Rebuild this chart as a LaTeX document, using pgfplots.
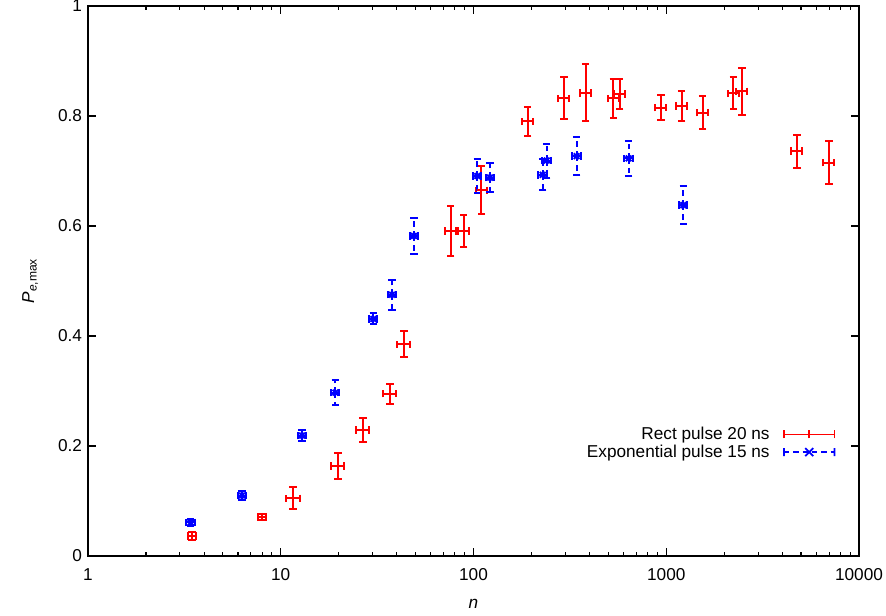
\documentclass[border=0pt]{standalone}
\usepackage{fontspec}
\setmainfont{Liberation Sans}
\usepackage{pgfplots}
\pgfplotsset{compat=1.18}
\usepackage{pgfplotstable}

\pgfplotstableread{
x y ex ey
3.46 0.036 0.16 0.007
8.0 0.071 0.36 0.006
11.6 0.105 0.95 0.020
19.8 0.164 1.55 0.024
26.7 0.229 2.1 0.022
36.9 0.295 2.9 0.018
43.6 0.385 3.4 0.024
76.2 0.591 5.0 0.045
89 0.591 5.8 0.029
110 0.665 7.2 0.044
191 0.790 12.4 0.027
294 0.832 19 0.038
382 0.842 25 0.052
531 0.832 35 0.035
573 0.840 37 0.027
939 0.815 61 0.023
1202 0.818 78 0.028
1545 0.806 100 0.030
2228 0.841 145 0.029
2472 0.845 160 0.043
4766 0.736 310 0.030
6985 0.715 455 0.039
}\rectdata

\pgfplotstableread{
x y ex ey
3.41 0.061 0.17 0.007
6.29 0.110 0.31 0.008
12.9 0.219 0.65 0.010
19.2 0.297 0.96 0.023
30.2 0.431 1.5 0.010
37.8 0.475 1.9 0.027
49.1 0.582 2.5 0.033
104.6 0.691 5.2 0.031
121.8 0.688 6.1 0.026
228.6 0.693 11.4 0.028
239.8 0.719 12 0.031
343 0.727 17 0.034
638 0.723 32 0.032
1225 0.638 61 0.034
}\expdata

\begin{document}
\fontsize{12.9}{15}\selectfont
\begin{tikzpicture}
\begin{axis}[
  name=ax,
  scale only axis, width=578.25pt, height=412.5pt,
  xmode=log, xmin=1, xmax=10000, ymin=0, ymax=1,
  xtick={1,10,100,1000,10000}, xticklabels={1,10,100,1000,10000},
  minor xtick={2,3,4,5,6,7,8,9,20,30,40,50,60,70,80,90,200,300,400,500,600,700,800,900,2000,3000,4000,5000,6000,7000,8000,9000},
  ytick={0,0.2,0.4,0.6,0.8,1}, yticklabels={0,0.2,0.4,0.6,0.8,1},
  tick align=inside, major tick length=6pt, minor tick length=3pt,
  every tick/.style={black, line width=0.8pt},
  axis line style={line width=1pt},
  /pgf/number format/assume math mode=true,
  ticklabel style={font=\fontsize{12.9}{15}\selectfont},
  xticklabel style={yshift=-5pt},
  xlabel={\textit{n}}, ylabel={\textit{P}\textsubscript{\textit{e},max}},
  every axis x label/.style={at={(axis description cs:0.5,-0.087)}, anchor=center},
  every axis y label/.style={at={(axis description cs:-0.075,0.5)}, rotate=90, anchor=center},
  legend plot pos=right, legend cell align=right,
  legend style={at={(0.975,0.245)}, anchor=north east, draw=none, fill=none, row sep=-2pt, font=\fontsize{12.9}{15}\selectfont},
]
\addplot[red, only marks, mark=+, mark size=3pt, line width=1.5pt,
  mark options={solid},
  error bars/.cd, x dir=both, x explicit, y dir=both, y explicit,
  error bar style={line width=1.5pt, red},
  error mark options={rotate=90, red, mark size=2.8pt, line width=1.5pt},
  /pgfplots/legend image code/.code={
    \path (0pt,0pt);
    \draw[red, line width=1.3pt] (8pt,0pt) -- (46pt,0pt)
      (8pt,-3pt) -- (8pt,3pt) (46pt,-3pt) -- (46pt,3pt) (27pt,-3pt) -- (27pt,3pt);
  }]
  table[x=x, y=y, x error=ex, y error=ey] {\rectdata};
\addlegendentry{Rect pulse 20 ns}
\addplot[blue, only marks, mark=x, mark size=3pt, line width=1.5pt,
  mark options={solid},
  error bars/.cd, x dir=both, x explicit, y dir=both, y explicit,
  error bar style={line width=1.5pt, blue, dash pattern=on 4pt off 3pt},
  error mark options={rotate=90, blue, mark size=2.8pt, line width=1.5pt},
  /pgfplots/legend image code/.code={
    \path (0pt,0pt);
    \draw[blue, line width=1.3pt, dash pattern=on 4pt off 3pt] (8pt,0pt) -- (46pt,0pt);
    \draw[blue, line width=1.3pt] (8pt,-3pt) -- (8pt,3pt) (46pt,-3pt) -- (46pt,3pt)
      (24pt,-3pt) -- (30pt,3pt) (24pt,3pt) -- (30pt,-3pt);
  }]
  table[x=x, y=y, x error=ex, y error=ey] {\expdata};
\addlegendentry{Exponential pulse 15 ns}
\end{axis}
\pgfresetboundingbox
\path ([shift={(-66pt,-44.25pt)}]ax.south west) rectangle ([shift={(20.25pt,4.5pt)}]ax.north east);
\end{tikzpicture}
\end{document}
